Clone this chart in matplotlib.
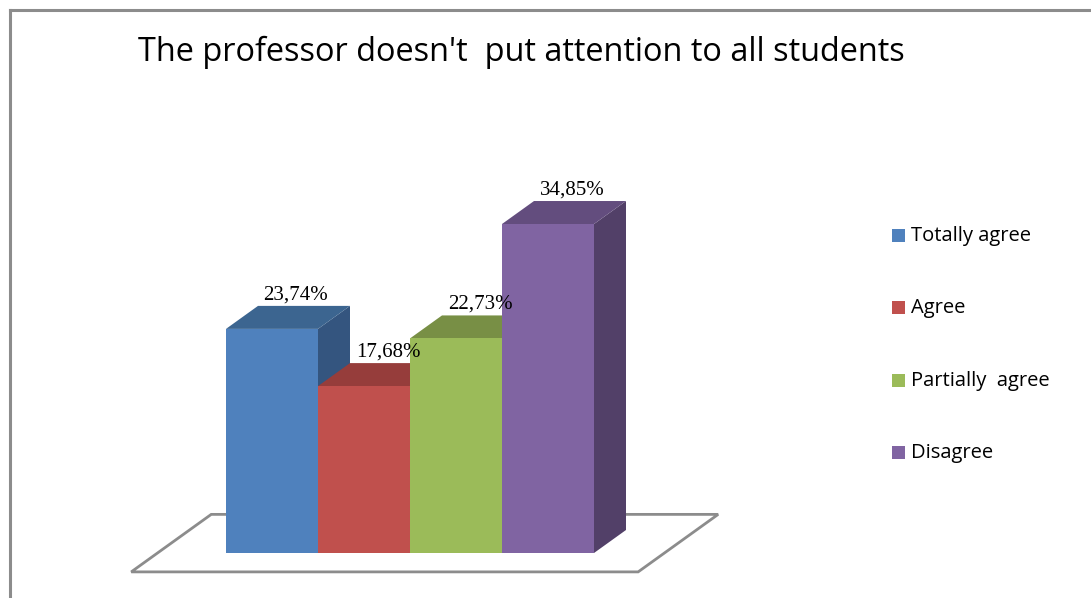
import matplotlib
matplotlib.use('Agg')
import matplotlib.pyplot as plt
from matplotlib.patches import Polygon, Rectangle
from matplotlib.lines import Line2D

# Survey answers
categories = ['Totally agree', 'Agree', 'Partially  agree', 'Disagree']
values = [23.74, 17.68, 22.73, 34.85]
value_labels = ['23,74%', '17,68%', '22,73%', '34,85%']

front_colors = ['#4F81BD', '#C0504D', '#9BBB59', '#8064A2']
top_colors = ['#3C6590', '#963D3B', '#788F45', '#634D7E']
side_colors = ['#34557F', '#803432', '#667A3A', '#524068']

title = "The professor doesn't  put attention to all students"

W, H = 1091, 598
fig = plt.figure(figsize=(W / 100, H / 100), dpi=100)

# plotting area: one bar = 1 x-unit, y in percent
px_x, px_y = 92.0, 9.44          # pixels per unit
x0_px, y0_px = 226.0, 553.0      # pixel position of data origin
xlim = (-1.2, 5.6)
ylim = (-3.0, 36.0)
left = (x0_px + px_x * xlim[0]) / W
right = (x0_px + px_x * xlim[1]) / W
bottom = (H - (y0_px - px_y * ylim[0])) / H
top = (H - (y0_px - px_y * ylim[1])) / H
ax = fig.add_axes([left, bottom, right - left, top - bottom])
ax.set_xlim(*xlim)
ax.set_ylim(*ylim)
ax.axis('off')

# depth direction of the 3d box
dx = 32.0 / px_x
dy = 23.0 / px_y

# floor
fl = [(-1.03, -2.0), (4.48, -2.0), (4.48 + 2.5 * dx, -2.0 + 2.5 * dy),
      (-1.03 + 2.5 * dx, -2.0 + 2.5 * dy)]
ax.add_patch(Polygon(fl, closed=True, fill=False, edgecolor='#8C8C8C',
                     linewidth=2, clip_on=False, zorder=1))

for i, (v, lab) in enumerate(zip(values, value_labels)):
    x1, x2 = i, i + 1
    z = 2 + i
    front = [(x1, 0), (x2, 0), (x2, v), (x1, v)]
    topf = [(x1, v), (x2, v), (x2 + dx, v + dy), (x1 + dx, v + dy)]
    side = [(x2, 0), (x2 + dx, dy), (x2 + dx, v + dy), (x2, v)]
    ax.add_patch(Polygon(side, closed=True, facecolor=side_colors[i],
                         edgecolor='none', clip_on=False, zorder=z))
    ax.add_patch(Polygon(topf, closed=True, facecolor=top_colors[i],
                         edgecolor='none', clip_on=False, zorder=z))
    ax.add_patch(Polygon(front, closed=True, facecolor=front_colors[i],
                         edgecolor='none', clip_on=False, zorder=z))
    ax.text(x1 + 0.5 + dx * 0.75, v + dy + 0.15, lab, ha='center', va='bottom',
            fontsize=15, family='Liberation Serif', color='black', zorder=10)

# outer chart border
fig.add_artist(Line2D([10 / W, 10 / W], [0, 1 - 10 / H], transform=fig.transFigure,
                      color='#8C8C8C', linewidth=2.2))
fig.add_artist(Line2D([10 / W, 1], [1 - 10 / H, 1 - 10 / H], transform=fig.transFigure,
                      color='#8C8C8C', linewidth=2.2))

fig.text(138 / W, 1 - 61 / H, title, ha='left', va='baseline',
         fontsize=23.4, family='Open Sans', color='black')

# legend
leg_y = [236, 308, 381, 453]
for name, c, ly in zip(categories, front_colors, leg_y):
    fig.add_artist(Rectangle((892 / W, 1 - (ly + 6) / H), 13 / W, 13 / H,
                             transform=fig.transFigure, facecolor=c, edgecolor='none'))
    fig.text(911 / W, 1 - ly / H, name, ha='left', va='center',
             fontsize=14.5, family='Open Sans', color='black')

fig.savefig('out.png', dpi=100)
